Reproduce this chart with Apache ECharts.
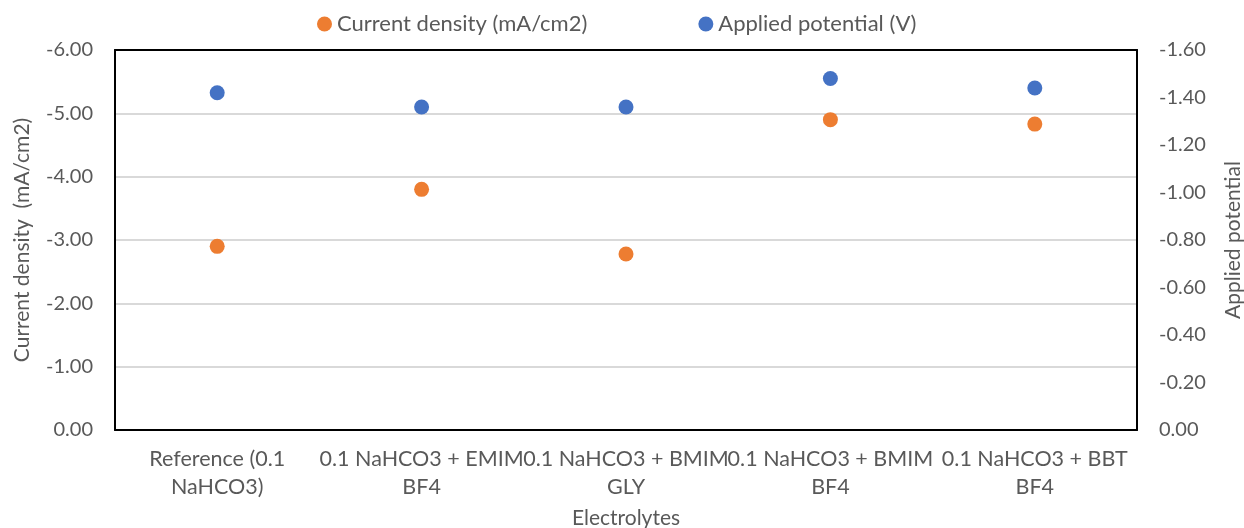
<!DOCTYPE html>
<html>
<head>
<meta charset="utf-8">
<script src="https://cdn.jsdelivr.net/npm/echarts@6/dist/echarts.min.js"></script>
<style>
  html, body { margin: 0; padding: 0; background: #fff; }
  #chart { width: 1244px; height: 528px; }
</style>
</head>
<body>
<div id="chart"></div>
<script>
// electrolytes on the x axis
const categories = [
  "Reference (0.1\nNaHCO3)",
  "0.1 NaHCO3 + EMIM\nBF4",
  "0.1 NaHCO3 + BMIM\nGLY",
  "0.1 NaHCO3 + BMIM\nBF4",
  "0.1 NaHCO3 + BBT\nBF4"
];
const currentDensity = [-2.90, -3.80, -2.78, -4.90, -4.83];   // mA/cm2, left axis
const appliedPotential = [-1.42, -1.36, -1.36, -1.48, -1.44]; // V, right axis

const FONT = "Lato";
const TXT = "#595959";
const FS = 20;

const myChart = echarts.init(document.getElementById("chart"));

let option = {
  animation: false,
  textStyle: { fontFamily: FONT },
  legend: {
    top: 8,
    left: 312,
    itemGap: 111,
    itemWidth: 15,
    itemHeight: 15,
    textStyle: { fontFamily: FONT, fontSize: 22, color: TXT },
    data: [
      { name: "Current density (mA/cm2)", icon: "circle" },
      { name: "Applied potential (V)", icon: "circle" }
    ]
  },
  grid: {
    left: 115,
    right: 107,
    top: 50,
    bottom: 98,
    outerBoundsMode: "none",
    containLabel: false
  },
  xAxis: [
    {
      type: "category",
      data: categories,
      boundaryGap: true,
      name: "Electrolytes",
      nameLocation: "middle",
      nameGap: 78,
      nameTextStyle: { fontFamily: FONT, fontSize: 21, color: TXT },
      axisLine: { show: true, lineStyle: { color: "#000", width: 2 } },
      axisTick: { show: false },
      axisLabel: {
        interval: 0,
        fontFamily: FONT,
        fontSize: 21.5,
        color: TXT,
        lineHeight: 28,
        margin: 15
      }
    },
    {
      // top border of the plot box
      type: "category",
      data: categories,
      position: "top",
      axisLine: { show: true, onZero: false, lineStyle: { color: "#000", width: 2 } },
      axisTick: { show: false },
      axisLabel: { show: false },
      splitLine: { show: false }
    }
  ],
  yAxis: [
    {
      type: "value",
      min: -6,
      max: 0,
      interval: 1,
      inverse: true,
      name: "Current density  (mA/cm2)",
      nameLocation: "middle",
      nameGap: 82,
      nameTextStyle: { fontFamily: FONT, fontSize: 21, color: TXT },
      axisLine: { show: true, lineStyle: { color: "#000", width: 2 } },
      axisTick: { show: false },
      axisLabel: {
        fontFamily: FONT, fontSize: FS, color: TXT, margin: 22,
        formatter: v => v.toFixed(2)
      },
      splitLine: { lineStyle: { color: "#d9d9d9", width: 2 } }
    },
    {
      type: "value",
      min: -1.6,
      max: 0,
      interval: 0.2,
      inverse: true,
      name: "Applied potential",
      nameLocation: "middle",
      nameGap: 86,
      nameTextStyle: { fontFamily: FONT, fontSize: 21, color: TXT },
      axisLine: { show: true, lineStyle: { color: "#000", width: 2 } },
      axisTick: { show: false },
      axisLabel: {
        fontFamily: FONT, fontSize: FS, color: TXT, margin: 22,
        formatter: v => v.toFixed(2)
      },
      splitLine: { show: false }
    }
  ],
  series: [
    {
      name: "Current density (mA/cm2)",
      type: "scatter",
      yAxisIndex: 0,
      data: currentDensity,
      symbol: "circle",
      symbolSize: 15,
      itemStyle: { color: "#ed7d31", opacity: 1 }
    },
    {
      name: "Applied potential (V)",
      type: "scatter",
      yAxisIndex: 1,
      data: appliedPotential,
      symbol: "circle",
      symbolSize: 15,
      itemStyle: { color: "#4472c4", opacity: 1 }
    }
  ]
};
myChart.setOption(option);
</script>
</body>
</html>
